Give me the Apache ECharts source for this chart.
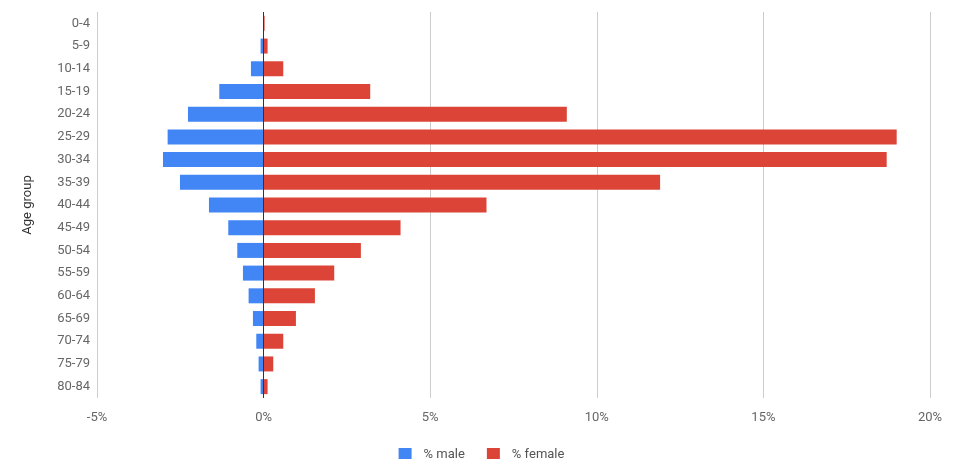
<!DOCTYPE html>
<html>
<head>
<meta charset="utf-8">
<script src="https://cdn.jsdelivr.net/npm/echarts@6/dist/echarts.min.js"></script>
<style>
html,body{margin:0;padding:0;background:#fff;}
#chart{width:963px;height:459px;}
</style>
</head>
<body>
<div id="chart"></div>
<script>
const categories = ['0-4','5-9','10-14','15-19','20-24','25-29','30-34','35-39','40-44','45-49','50-54','55-59','60-64','65-69','70-74','75-79','80-84'];
const malePct = [0, -0.09, -0.38, -1.33, -2.27, -2.88, -3.02, -2.51, -1.64, -1.06, -0.79, -0.62, -0.45, -0.32, -0.22, -0.15, -0.09];
const femalePct = [0.03, 0.12, 0.59, 3.2, 9.1, 19.0, 18.7, 11.9, 6.69, 4.11, 2.92, 2.12, 1.54, 0.97, 0.59, 0.29, 0.12];
const xTicks = [-5, 0, 5, 10, 15, 20];

const chart = echarts.init(document.getElementById('chart'));
const font = 'Roboto, Arial, sans-serif';
chart.setOption({
  animation: false,
  textStyle: { fontFamily: font },
  grid: { left: 97, right: 33, top: 12, bottom: 61, containLabel: false },
  legend: {
    top: 443,
    left: 'center',
    itemWidth: 13,
    itemHeight: 13,
    itemGap: 22,
    icon: 'rect',
    textStyle: { color: '#555', fontSize: 13, fontFamily: font, padding: [0, 0, 0, 7] },
    data: ['% male', '% female']
  },
  xAxis: {
    type: 'value',
    min: xTicks[0],
    max: xTicks[xTicks.length - 1],
    interval: 5,
    axisLine: { show: false },
    axisTick: { show: false },
    splitLine: { lineStyle: { color: '#cccccc', width: 1 } },
    axisLabel: { color: '#666', fontSize: 13, margin: 13, formatter: v => v + '%' }
  },
  yAxis: {
    type: 'category',
    inverse: true,
    data: categories,
    name: 'Age group',
    nameLocation: 'middle',
    nameRotate: 90,
    nameGap: 63,
    nameTextStyle: { color: '#333', fontSize: 13 },
    axisLine: { show: false },
    axisTick: { show: false },
    splitLine: { show: false },
    axisLabel: { color: '#666', fontSize: 13, margin: 7 }
  },
  series: [
    {
      name: '% male',
      type: 'bar',
      stack: 'pop',
      data: malePct,
      barCategoryGap: '34%',
      itemStyle: { color: '#4285F4' },
      markLine: {
        silent: true,
        symbol: 'none',
        label: { show: false },
        lineStyle: { color: '#333', type: 'solid', width: 1 },
        data: [{ xAxis: 0 }]
      }
    },
    {
      name: '% female',
      type: 'bar',
      stack: 'pop',
      data: femalePct,
      barCategoryGap: '34%',
      itemStyle: { color: '#DB4437' }
    }
  ]
});
</script>
</body>
</html>
